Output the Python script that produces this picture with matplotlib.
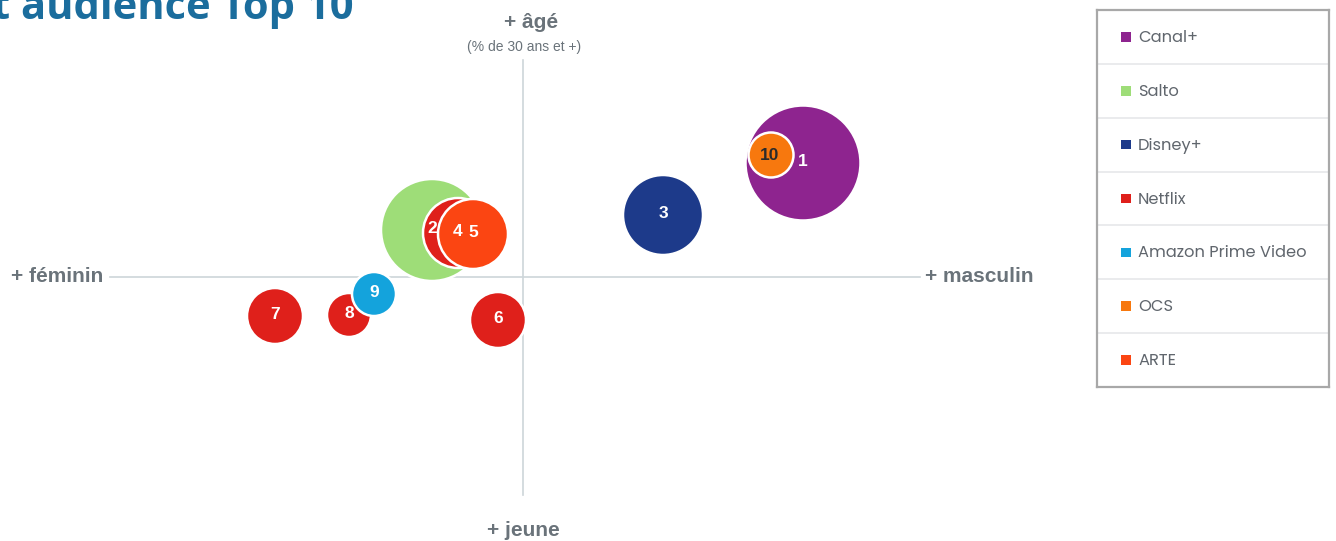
import matplotlib
matplotlib.use("Agg")
import matplotlib.pyplot as plt
from matplotlib.patches import Circle, Rectangle

# ---- data ----
ranks = [1, 2, 3, 4, 5, 6, 7, 8, 9, 10]
platforms = ["Canal+", "Salto", "Disney+", "Netflix", "ARTE", "Netflix", "Netflix", "Netflix", "Amazon Prime Video", "OCS"]
x_gender = [28.0, -9.1, 14.0, -6.5, -5.0, -2.5, -24.8, -17.4, -14.9, 24.8]   # + masculin
y_age = [11.4, 4.7, 6.2, 4.4, 4.3, -4.3, -3.9, -3.8, -1.7, 12.2]          # + âgé
audience_r = [5.75, 5.1, 4.0, 3.5, 3.5, 2.8, 2.8, 2.2, 2.2, 2.25]

legend_names = ["Canal+", "Salto", "Disney+", "Netflix", "Amazon Prime Video", "OCS", "ARTE"]
colors = {
    "Canal+": "#8E248F",
    "Salto": "#9EDD78",
    "Disney+": "#1D3A8A",
    "Netflix": "#DF201B",
    "Amazon Prime Video": "#14A3DC",
    "OCS": "#F7780E",
    "ARTE": "#FB4512",
}
label_colors = {10: "#2b2b2b"}

W, H = 1336, 541
fig = plt.figure(figsize=(W / 100, H / 100), dpi=100)
ax = fig.add_axes([0, 0, 1, 1])
# 1 unit = 10 px, origin at centre of the quadrant
cx, cy = 523, 277
ax.set_xlim(-cx / 10, (W - cx) / 10)
ax.set_ylim(-(H - cy) / 10, cy / 10)
ax.set_aspect("equal")
ax.axis("off")

axis_col = "#CDD5D9"
txt_col = "#6A737A"
ax.plot([-41.3, 39.7], [0, 0], color=axis_col, lw=1.2, zorder=1)
ax.plot([0, 0], [-21.8, 21.7], color=axis_col, lw=1.2, zorder=1)

lab_font = ["Liberation Sans", "DejaVu Sans"]
ax.text(0.8, 25.4, "+ âgé", ha="center", va="center", fontsize=15, fontweight="bold",
        color=txt_col, family=lab_font)
ax.text(0.1, 23.0, "(% de 30 ans et +)", ha="center", va="center", fontsize=10,
        color=txt_col, family=lab_font)
ax.text(0.0, -25.3, "+ jeune", ha="center", va="center", fontsize=15, fontweight="bold",
        color=txt_col, family=lab_font)
ax.text(-42.0, 0.0, "+ féminin", ha="right", va="center", fontsize=15, fontweight="bold",
        color=txt_col, family=lab_font)
ax.text(40.2, 0.0, "+ masculin", ha="left", va="center", fontsize=15, fontweight="bold",
        color=txt_col, family=lab_font)

for i, (rk, p, x, y, r) in enumerate(zip(ranks, platforms, x_gender, y_age, audience_r)):
    ax.add_patch(Circle((x, y), r, facecolor=colors[p], edgecolor="white", lw=1.8, zorder=2 + i))

label_offsets = {10: (-0.1, -0.2)}
for rk, x, y in zip(ranks, x_gender, y_age):
    dx, dy = label_offsets.get(rk, (0, 0))
    ax.text(x + dx, y + dy + 0.1, str(rk), ha="center", va="center", fontsize=12.5,
            fontweight="bold", color=label_colors.get(rk, "white"), family=lab_font, zorder=20)

# title (cropped at the top-left)
fig.text(-0.006, 1 - 19 / H, "t audience Top 10", ha="left", va="baseline", fontsize=30,
         fontweight="bold", color="#1B6D9D", family=["Open Sans", "DejaVu Sans"])

# ---- legend box ----
lx0, ly0, lx1, ly1 = 1097, 10, 1329, 387
lax = fig.add_axes([lx0 / W, 1 - ly1 / H, (lx1 - lx0) / W, (ly1 - ly0) / H])
n = len(legend_names)
lax.set_xlim(0, lx1 - lx0)
lax.set_ylim(n, 0)
lax.set_xticks([])
lax.set_yticks([])
for s in lax.spines.values():
    s.set_color("#A8A8A8")
    s.set_linewidth(1.6)
for k in range(1, n):
    lax.axhline(k, color="#E6E8EA", lw=1.2)
for k, name in enumerate(legend_names):
    lax.add_patch(Rectangle((24, k + 0.5 - 0.09), 10, 0.18, facecolor=colors[name], edgecolor="none"))
    lax.text(41, k + 0.52, name, ha="left", va="center", fontsize=11.7, color="#60666D",
             family=["Poppins", "Lato", "DejaVu Sans"])

fig.savefig("out.png", dpi=100, facecolor="white")
